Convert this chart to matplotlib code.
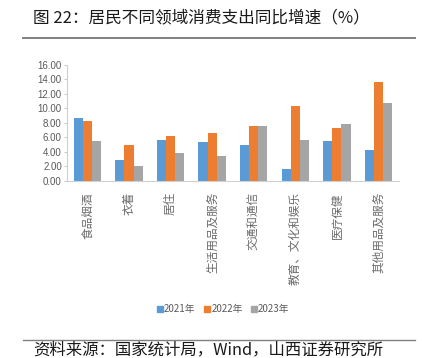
import numpy as np
import matplotlib.pyplot as plt
from matplotlib.lines import Line2D

plt.rcParams['font.family'] = ['Noto Sans CJK SC', 'DejaVu Sans']

categories = ["食品烟酒", "衣着", "居住", "生活用品及服务", "交通和通信",
              "教育、文化和娱乐", "医疗保健", "其他用品及服务"]
years = ["2021年", "2022年", "2023年"]
v2021 = [8.6, 2.9, 5.7, 5.4, 5.0, 1.7, 5.5, 4.2]
v2022 = [8.2, 5.0, 6.2, 6.6, 7.6, 10.3, 7.3, 13.6]
v2023 = [5.5, 2.1, 3.9, 3.5, 7.6, 5.7, 7.8, 10.7]
yticks = np.arange(0, 16.01, 2)

colors = ["#5B9BD5", "#ED7D31", "#A5A5A5"]

fig = plt.figure(figsize=(4.22, 3.58), dpi=100)
ax = fig.add_axes([0.158, 0.4944, 0.788, 0.3249])

x = np.arange(len(categories))
w = 0.22
for i, vals in enumerate([v2021, v2022, v2023]):
    ax.bar(x + (i - 1) * w, vals, width=w, color=colors[i], label=years[i])

ax.set_xlim(-0.5, len(categories) - 0.5)
ax.set_ylim(0, 16)
ax.set_yticks(yticks)
ax.set_yticklabels([f"{t:.2f}" for t in yticks], family=['Liberation Sans Narrow', 'Liberation Sans'],
                   fontsize=7, color="#595959")
ax.set_xticks(x)
ax.set_xticklabels([], fontsize=1)
ax.tick_params(axis='x', length=0)
ax.tick_params(axis='y', length=2, width=0.6, color="#BFBFBF", pad=1.5)
for s in ["top", "right"]:
    ax.spines[s].set_visible(False)
for s in ["left", "bottom"]:
    ax.spines[s].set_color("#D0D0D0")
    ax.spines[s].set_linewidth(0.8)

# vertical category labels, read bottom to top, top aligned under axis
for xi, lab in zip(x, categories):
    ax.annotate(lab, xy=(xi, 0), xycoords=('data', 'axes fraction'),
                xytext=(0, -8), textcoords='offset points',
                rotation=90, ha='center', va='top', fontsize=8.4, color="#6a6a6a")

handles = [Line2D([], [], marker='s', linestyle='none', markersize=4,
                  markerfacecolor=c, markeredgecolor=c) for c in colors]
fig.legend(handles, years, loc='center', bbox_to_anchor=(223 / 422, 1 - 309 / 358),
           ncol=3, frameon=False, fontsize=7, handletextpad=0.0, columnspacing=0.8,
           labelcolor="#595959", handlelength=0.8)

fig.text(33 / 422, 1 - 18 / 358, "图 22：居民不同领域消费支出同比增速（%）",
         fontsize=12, ha='left', va='center', color="#1a1a1a")
fig.add_artist(Line2D([23 / 422, 415 / 422], [1 - 38 / 358] * 2, color="#808080", lw=1.4))
fig.add_artist(Line2D([23 / 422, 415 / 422], [1 - 340 / 358] * 2, color="#808080", lw=1.0))
fig.text(33 / 422, 1 - 341 / 358, "资料来源：国家统计局，Wind，山西证券研究所",
         fontsize=11.8, ha='left', va='top', color="#1a1a1a")

fig.savefig("out.png", dpi=100)
